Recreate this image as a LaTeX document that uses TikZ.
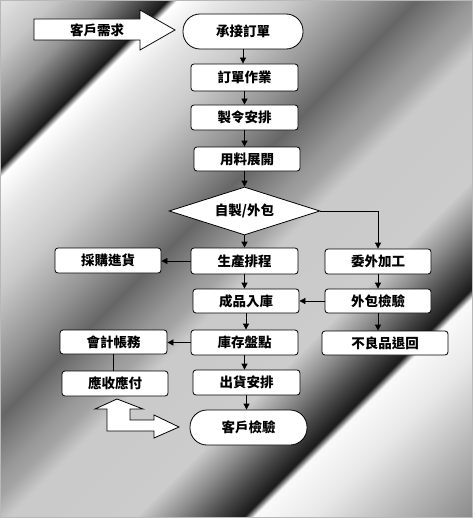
\documentclass[tikz,border=0pt]{standalone}
\usepackage{fontspec}
\newfontfamily\cjk{Noto Sans CJK TC}
\usetikzlibrary{arrows.meta,shapes.geometric}
\pgfdeclarehorizontalshading{chrome}{100bp}{%
color(0bp)=(white!88!black);
color(14.64bp)=(white!88!black);
color(18.18bp)=(white!78!black);
color(21.71bp)=(white!58!black);
color(25.25bp)=(white!22!black);
color(26.38bp)=(white!10!black);
color(27.09bp)=(white);
color(30.20bp)=(white!90!black);
color(35.15bp)=(white!79!black);
color(40.80bp)=(white!57!black);
color(44.34bp)=(white!40!black);
color(48.58bp)=(white!60!black);
color(50.00bp)=(white!64!black);
color(52.12bp)=(white!79!black);
color(61.31bp)=(white!80!black);
color(64.14bp)=(white!55!black);
color(66.97bp)=(white!28!black);
color(69.09bp)=(white!10!black);
color(69.80bp)=(white!98!black);
color(74.04bp)=(white!91!black);
color(78.99bp)=(white!75!black);
color(85.36bp)=(white!55!black);
color(100bp)=(white!55!black)}
\tikzset{
  txt/.style={font={\cjk\bfseries\fontsize{13.5pt}{15pt}\selectfont}},
  box/.style={txt, draw=black, fill=white, line width=0.8pt, rounded corners=3pt, inner sep=0pt},
  term/.style={txt, draw=black, fill=white, line width=0.8pt, rounded corners=17pt, inner sep=0pt},
  arr/.style={draw=black, line width=0.8pt, -{Triangle[length=6pt,width=6pt]}},
  link/.style={draw=black, line width=0.8pt},
  blockarrow/.style={draw=black, fill=white, line width=0.8pt, line join=miter}
}
\begin{document}
\begin{tikzpicture}[x=1pt,y=-1pt]
\useasboundingbox (0,0) rectangle (475,524);
\fill[white] (0,0) rectangle (475,524);
\shade[shading=chrome, shading angle=-45] (1,1) rectangle (472,517);
\draw[white!72!black, line width=1pt] (0.5,0.5) rectangle (472.5,517.5);

% input block arrow
\draw[blockarrow] (34,19) -- (140,19) -- (140,10) -- (175,30) -- (140,50) -- (140,40) -- (34,40) -- cycle;
\node[txt] (req) at (97,30) {客戶需求};

% nodes
\node[term, minimum width=120pt, minimum height=35pt] (a) at (243,31.5) {承接訂單};
\node[box, minimum width=107pt, minimum height=27pt] (b) at (244.5,77.5) {訂單作業};
\node[box, minimum width=107pt, minimum height=25pt] (c) at (244.5,117.5) {製令安排};
\node[box, minimum width=106pt, minimum height=24pt] (d) at (247,159) {用料展開};
\node[txt, diamond, draw=black, fill=white, line width=0.8pt, inner sep=0pt, aspect=3.1, minimum width=151pt, minimum height=48pt] (e) at (244.5,211) {自製/外包};
\node[box, minimum width=107pt, minimum height=26pt] (f) at (244.5,261) {生產排程};
\node[box, minimum width=106pt, minimum height=25pt] (g) at (378,261.5) {委外加工};
\node[box, minimum width=106pt, minimum height=25pt] (h) at (108,260.5) {採購進貨};
\node[box, minimum width=106pt, minimum height=24pt] (i) at (246,301) {成品入庫};
\node[box, minimum width=106pt, minimum height=24pt] (j) at (378,301) {外包檢驗};
\node[box, minimum width=126pt, minimum height=24pt] (k) at (385,343) {不良品退回};
\node[box, minimum width=107pt, minimum height=25pt] (l) at (244.5,342.5) {庫存盤點};
\node[box, minimum width=107pt, minimum height=24pt] (m) at (113.5,342) {會計帳務};
\node[box, minimum width=106pt, minimum height=25pt] (n) at (115,383.5) {應收應付};
\node[box, minimum width=107pt, minimum height=25pt] (o) at (246.5,382.5) {出貨安排};
\node[term, minimum width=117pt, minimum height=35pt] (p) at (248.5,427.5) {客戶檢驗};

% connectors
\draw[arr] (a.south) -- (a.south |- b.north);
\draw[arr] (b.south) -- (b.south |- c.north);
\draw[arr] (c.south) -- (c.south |- d.north);
\draw[arr] (e.north |- d.south) -- (e.north);
\draw[arr] (e.south) -- (e.south |- f.north);
\draw[arr] (e.east) -| (g.north);
\draw[arr] (f.west) -- (f.west -| h.east);
\draw[arr] (f.south) -- (f.south |- i.north);
\draw[arr] (g.south) -- (g.south |- j.north);
\draw[arr] (j.west) -- (j.west -| i.east);
\draw[arr] (j.south) -- (j.south |- k.north);
\draw[arr] (i.south) -- (i.south |- l.north);
\draw[arr] (l.west) -- (l.west -| m.east);
\draw[link] (m.south) -- (m.south |- n.north);
\draw[arr] (l.south) -- (l.south |- o.north);
\draw[arr] (o.south) -- (o.south |- p.north);

% bent block arrow
\draw[blockarrow] (117,399) -- (143,409) -- (130,409) -- (130,420) -- (154,420) -- (154,415) -- (179,427) -- (154,438) -- (154,431) -- (107,431) -- (107,409) -- (95,409) -- cycle;
\end{tikzpicture}
\end{document}
